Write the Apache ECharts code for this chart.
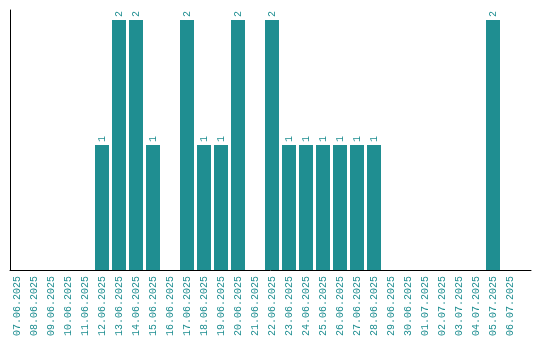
<!DOCTYPE html>
<html>
<head>
<meta charset="utf-8">
<script src="https://cdn.jsdelivr.net/npm/echarts@6/dist/echarts.min.js"></script>
<style>html,body{margin:0;padding:0;background:#fff}#c{width:540px;height:340px}</style>
</head>
<body>
<div id="c"></div>
<script>
var dates = ["07.06.2025","08.06.2025","09.06.2025","10.06.2025","11.06.2025","12.06.2025","13.06.2025","14.06.2025","15.06.2025","16.06.2025","17.06.2025","18.06.2025","19.06.2025","20.06.2025","21.06.2025","22.06.2025","23.06.2025","24.06.2025","25.06.2025","26.06.2025","27.06.2025","28.06.2025","29.06.2025","30.06.2025","01.07.2025","02.07.2025","03.07.2025","04.07.2025","05.07.2025","06.07.2025"];
var counts = [0,0,0,0,0,1,2,2,1,0,2,1,1,2,0,2,1,1,1,1,1,1,0,0,0,0,0,0,2,0];

var teal = '#1f8e91';
var idx = dates.map(function(d,i){return i;});
var chart = echarts.init(document.getElementById('c'));
chart.setOption({
  animation: false,
  grid: {left: 10, right: 9, top: 10, bottom: 70},
  xAxis: {
    type: 'value',
    min: -7/17,
    max: 514/17,
    splitLine: {show: false},
    axisLine: {show: true, onZero: false, lineStyle: {color: '#000', width: 1}},
    axisTick: {show: false},
    axisLabel: {
      customValues: idx,
      rotate: 90,
      margin: 6,
      color: teal,
      fontFamily: 'Liberation Mono',
      fontSize: 10,
      formatter: function(v){ return dates[Math.round(v)] || ''; }
    }
  },
  yAxis: {
    type: 'value',
    min: 0,
    max: 2.08,
    splitLine: {show: false},
    axisLine: {show: true, onZero: false, lineStyle: {color: '#000', width: 1}},
    axisTick: {show: false},
    axisLabel: {show: false}
  },
  series: [{
    type: 'bar',
    barWidth: 14,
    data: counts.map(function(v,i){return [i,v];}),
    itemStyle: {color: teal},
    label: {
      show: true,
      position: 'top',
      rotate: 90,
      align: 'left',
      verticalAlign: 'middle',
      distance: 3,
      color: teal,
      fontFamily: 'Liberation Mono',
      fontSize: 10,
      formatter: function(p){ return p.value[1] ? String(p.value[1]) : ''; }
    }
  }]
});
</script>
</body>
</html>
